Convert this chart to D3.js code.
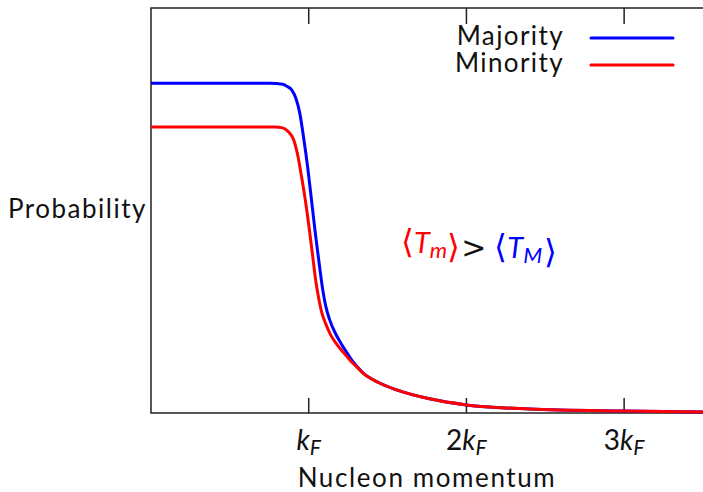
<!DOCTYPE html>
<html>
<head>
<meta charset="utf-8">
<script src="https://cdn.jsdelivr.net/npm/d3@7"></script>
<style>
  body { margin: 0; background: #fff; }
  svg { font-family: Lato, "Open Sans", sans-serif; }
</style>
</head>
<body>
<svg id="chart" width="703" height="492"></svg>
<script>
// momentum in units of k_F, probability in arbitrary units
const majorityK = [0, 0.753, 0.835, 0.861, 0.892, 0.918, 0.943, 0.968, 0.994, 1.019, 1.044, 1.070, 1.089, 1.108, 1.133, 1.165, 1.203, 1.247, 1.272, 1.304, 1.342, 1.449, 1.557, 1.766, 2.0, 2.399, 3.0, 3.5];
const majorityP = [0.814, 0.814, 0.812, 0.807, 0.798, 0.778, 0.741, 0.679, 0.605, 0.521, 0.437, 0.358, 0.304, 0.264, 0.230, 0.200, 0.173, 0.146, 0.131, 0.116, 0.100, 0.074, 0.057, 0.035, 0.020, 0.010, 0.005, 0.0025];
const minorityK = [0, 0.785, 0.835, 0.867, 0.905, 0.930, 0.956, 0.981, 1.006, 1.025, 1.044, 1.063, 1.082, 1.108, 1.139, 1.177, 1.228, 1.272, 1.304, 1.342, 1.449, 1.557, 1.766, 2.0, 2.399, 3.0, 3.5];
const minorityP = [0.706, 0.706, 0.704, 0.696, 0.674, 0.637, 0.580, 0.519, 0.447, 0.388, 0.328, 0.284, 0.249, 0.220, 0.193, 0.170, 0.146, 0.126, 0.114, 0.099, 0.074, 0.057, 0.035, 0.020, 0.010, 0.005, 0.0025];
const tickValues = [1, 2, 3];
const tickPrefix = ["", "2", "3"];
const seriesNames = ["Majority", "Minority"];
const seriesColors = ["#0000ff", "#ff0000"];

const svg = d3.select("#chart");
const margin = { left: 151, top: 8, right: 0, bottom: 79 };
const W = 703, H = 492;

const x = d3.scaleLinear().domain([0, 3.5]).range([margin.left, W - margin.right]);
const y = d3.scaleLinear().domain([0, 1]).range([H - margin.bottom, margin.top]);

const axisColor = "#222";
const textColor = "#111";

// frame: top, left, bottom
svg.append("path")
  .attr("d", `M${x(3.5)},${y(1)}H${x(0)}V${y(0)}H${x(3.5)}`)
  .attr("fill", "none").attr("stroke", axisColor).attr("stroke-width", 1.5);

// ticks bottom and mirrored on top
tickValues.forEach(v => {
  svg.append("line").attr("x1", x(v)).attr("x2", x(v))
    .attr("y1", y(0)).attr("y2", y(0) - 15)
    .attr("stroke", axisColor).attr("stroke-width", 1.5);
  svg.append("line").attr("x1", x(v)).attr("x2", x(v))
    .attr("y1", y(1)).attr("y2", y(1) + 16)
    .attr("stroke", axisColor).attr("stroke-width", 1.5);
});

// tick labels  (n k_F)
tickValues.forEach((v, i) => {
  const t = svg.append("text")
    .attr("x", x(v)).attr("y", 450)
    .attr("text-anchor", "middle")
    .attr("font-size", 28).attr("fill", textColor);
  if (tickPrefix[i]) t.append("tspan").text(tickPrefix[i]);
  t.append("tspan").attr("font-style", "italic").text("k");
  t.append("tspan").attr("font-style", "italic").attr("font-size", 21).attr("dy", 5).text("F");
});

// axis titles
svg.append("text").attr("x", x(1.75)).attr("y", 487)
  .attr("text-anchor", "middle").attr("font-size", 26).attr("letter-spacing", 1.6)
  .attr("fill", textColor)
  .text("Nucleon momentum");
svg.append("text").attr("x", 8).attr("y", 218)
  .attr("font-size", 26).attr("letter-spacing", 1.5).attr("fill", textColor)
  .text("Probability");

const line = d3.line()
  .x(d => x(d[0])).y(d => y(d[1]))
  .curve(d3.curveMonotoneX);

const series = [
  d3.zip(majorityK, majorityP),
  d3.zip(minorityK, minorityP)
];

series.forEach((s, i) => {
  svg.append("path").datum(s)
    .attr("d", line)
    .attr("fill", "none")
    .attr("stroke", seriesColors[i])
    .attr("stroke-width", 3)
    .attr("stroke-linejoin", "round");
});

// legend
seriesNames.forEach((name, i) => {
  const ly = 38 + i * 27;
  svg.append("text").attr("x", 564).attr("y", ly + 7)
    .attr("text-anchor", "end").attr("font-size", 26).attr("letter-spacing", 1.4)
    .attr("fill", textColor)
    .text(name);
  svg.append("line").attr("x1", 591).attr("x2", 673)
    .attr("y1", ly).attr("y2", ly)
    .attr("stroke", seriesColors[i]).attr("stroke-width", 3)
    .attr("stroke-linecap", "round");
});

// annotation <T_m> > <T_M>
const ann = svg.append("text").attr("x", 401).attr("y", 253).attr("font-size", 29);
const bracket = (sel, ch, color) => sel.append("tspan").attr("fill", color)
  .attr("font-family", "DejaVu Sans").attr("font-weight", 200).attr("font-size", 33).text(ch);
bracket(ann, "⟨", "#ff0000");
ann.append("tspan").attr("fill", "#ff0000").attr("font-style", "italic").text("T");
ann.append("tspan").attr("fill", "#ff0000").attr("font-style", "italic").attr("font-size", 22).attr("dy", 5).text("m");
ann.append("tspan").attr("dy", -5).text("");
bracket(ann, "⟩", "#ff0000");
ann.append("tspan").attr("fill", textColor).attr("font-family", "DejaVu Sans").attr("font-size", 30).attr("dx", 1).text(">");
bracket(ann, "⟨", "#0000ff").attr("dx", 8);
ann.append("tspan").attr("fill", "#0000ff").attr("font-style", "italic").text("T");
ann.append("tspan").attr("fill", "#0000ff").attr("font-style", "italic").attr("font-size", 22).attr("dy", 5).attr("letter-spacing", 2).text("M");
ann.append("tspan").attr("dy", -5).text("");
bracket(ann, "⟩", "#0000ff");
</script>
</body>
</html>
